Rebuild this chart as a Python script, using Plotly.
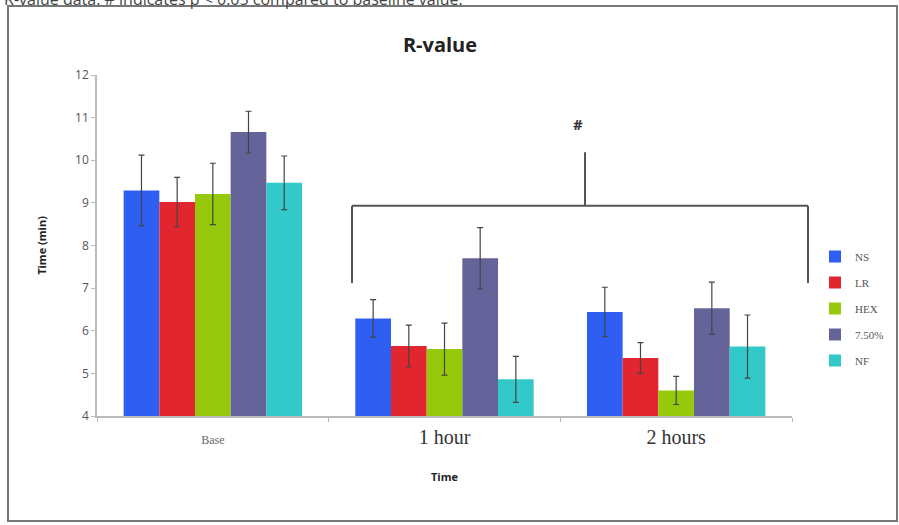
import plotly.graph_objects as go

categories = ["Base", "1 hour", "2 hours"]
series_names = ["NS", "LR", "HEX", "7.50%", "NF"]
colors = ["#2F5EF2", "#E2262F", "#96C90C", "#64649A", "#33C9C9"]

ns_vals = [9.29, 6.29, 6.44]
lr_vals = [9.02, 5.64, 5.36]
hex_vals = [9.21, 5.57, 4.60]
p750_vals = [10.66, 7.70, 6.53]
nf_vals = [9.47, 4.86, 5.63]

ns_err = [0.83, 0.44, 0.58]
lr_err = [0.58, 0.49, 0.36]
hex_err = [0.72, 0.61, 0.33]
p750_err = [0.49, 0.72, 0.61]
nf_err = [0.63, 0.54, 0.74]

values = [ns_vals, lr_vals, hex_vals, p750_vals, nf_vals]
errors = [ns_err, lr_err, hex_err, p750_err, nf_err]

y_ticks = [4, 5, 6, 7, 8, 9, 10, 11, 12]
tick_text = [
    "<span style='font-family:Liberation Serif;font-size:12px;color:#666'>Base</span>",
    "<span style='font-family:Liberation Serif;font-size:20px;color:#333'>1 hour</span>",
    "<span style='font-family:Liberation Serif;font-size:20px;color:#333'>2 hours</span>",
]

L, R, T, B = 97, 107, 75, 109
PW, PH = 899 - L - R, 525 - T - B

fig = go.Figure()
for i, name in enumerate(series_names):
    fig.add_trace(go.Bar(
        x=categories, y=values[i], name=name,
        marker=dict(color=colors[i], line=dict(width=0)),
        error_y=dict(type="data", array=errors[i], color="#444", thickness=1.2, width=3),
        legendgroup=name,
    ))

def px_x(p):
    return (p - L) / PW

def px_y(p):
    return (525 - B - p) / PH

# significance bracket (annotation, y in data units)
br_top, br_bot, stem_top = 8.93, 7.12, 10.19
line_style = dict(color="#555", width=2)
xl, xr, xm = px_x(352), px_x(808), px_x(585)
fig.add_shape(type="line", xref="paper", yref="y", x0=xl, x1=xr, y0=br_top, y1=br_top, line=line_style)
fig.add_shape(type="line", xref="paper", yref="y", x0=xl, x1=xl, y0=br_top, y1=br_bot, line=line_style)
fig.add_shape(type="line", xref="paper", yref="y", x0=xr, x1=xr, y0=br_top, y1=br_bot, line=line_style)
fig.add_shape(type="line", xref="paper", yref="y", x0=xm, x1=xm, y0=br_top, y1=stem_top, line=line_style)
fig.add_annotation(text="<b>#</b>", xref="paper", yref="y", x=xm, y=10.84, showarrow=False,
                   font=dict(family="Open Sans", size=15, color="#333"))

# outer frame
fig.add_shape(type="rect", xref="paper", yref="paper",
              x0=px_x(8), x1=px_x(897), y0=px_y(521), y1=px_y(6),
              line=dict(color="#777", width=2), fillcolor="rgba(0,0,0,0)", layer="below")

# cut-off caption at very top (as in the reference)
fig.add_annotation(text="R-value data. # indicates p < 0.05 compared to baseline value.",
                   xref="paper", yref="paper", x=px_x(2), y=px_y(-1),
                   xanchor="left", yanchor="middle", showarrow=False,
                   font=dict(family="Open Sans", size=16, color="#444"))

fig.update_layout(
    width=899, height=525,
    margin=dict(l=L, r=R, t=T, b=B),
    paper_bgcolor="white", plot_bgcolor="white",
    barmode="group", bargap=0.23, bargroupgap=0,
    title=dict(text="<b>R-value</b>", x=440 / 899, xanchor="center", y=1 - 45 / 525, yanchor="middle",
               font=dict(family="Open Sans", size=20, color="#222")),
    showlegend=True,
    legend=dict(xref="container", yref="container", x=815 / 899, y=1 - 242 / 525,
                xanchor="left", yanchor="top", tracegroupgap=7,
                font=dict(family="Liberation Serif", size=11, color="#555"),
                bgcolor="rgba(0,0,0,0)"),
    font=dict(family="Open Sans", color="#555"),
)
fig.update_xaxes(
    tickvals=categories, ticktext=tick_text,
    showline=True, linecolor="#bbb", linewidth=1.5,
    tickson="boundaries", ticks="outside", ticklen=4, tickcolor="#bbb",
    ticklabelstandoff=12, showgrid=False,
    title=dict(text="<b>Time</b>", font=dict(family="Open Sans", size=11, color="#222"), standoff=26),
)
fig.update_yaxes(
    range=[4, 12], tickvals=y_ticks, showgrid=False, zeroline=False,
    showline=True, linecolor="#bbb", linewidth=1.5, ticks="outside", ticklen=4, tickcolor="#bbb",
    tickfont=dict(family="Open Sans", size=12, color="#555"),
    title=dict(text="<b>Time (min)</b>", font=dict(family="Open Sans", size=11, color="#222"), standoff=26),
)

fig.write_html("out.html")
